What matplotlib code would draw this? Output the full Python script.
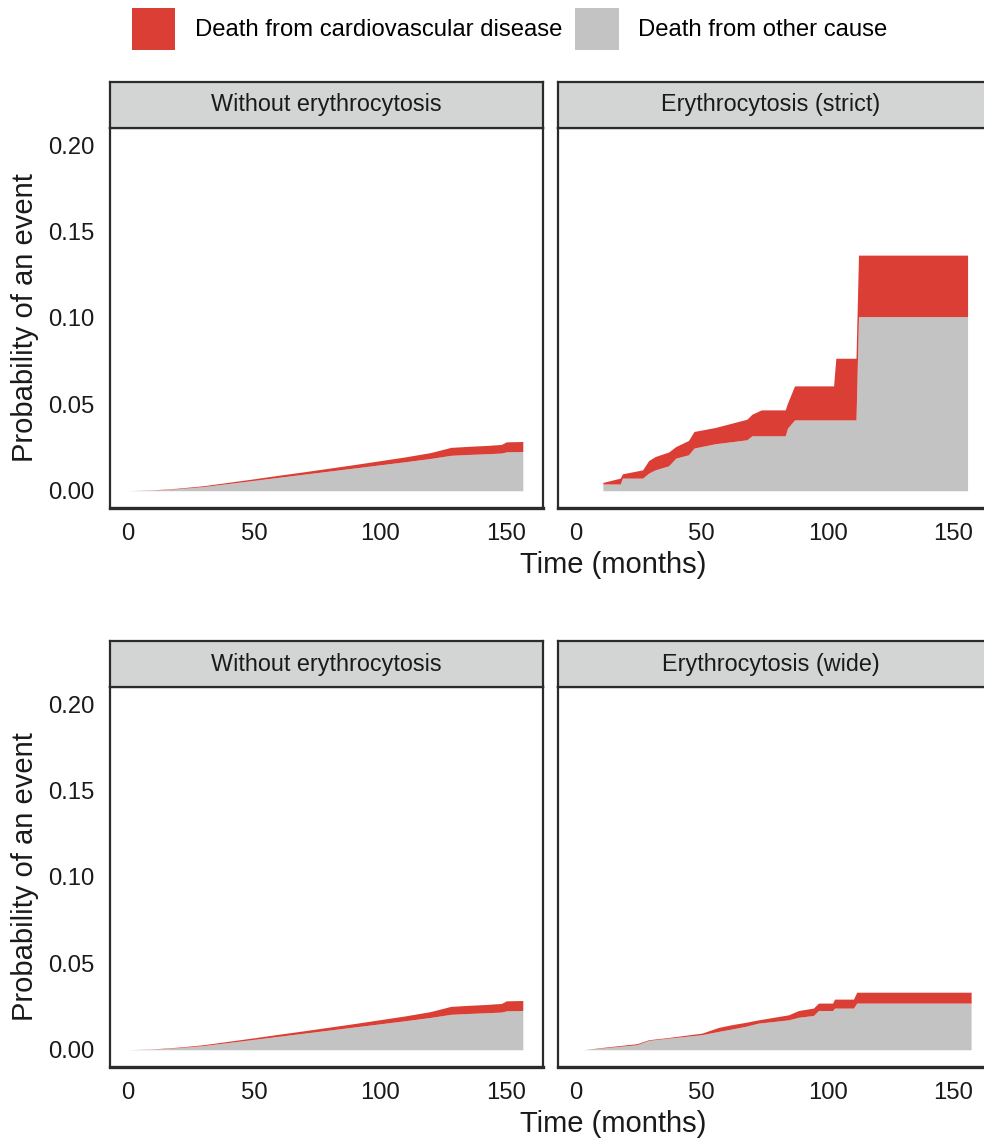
import numpy as np
import matplotlib
matplotlib.use("Agg")
import matplotlib.pyplot as plt
from matplotlib.patches import Patch

plt.rcParams['font.family'] = ['Liberation Sans', 'DejaVu Sans']

# cumulative incidence
# without erythrocytosis (same curve in both rows)
t_none = [0, 10, 20, 30, 40, 50, 60, 70, 80, 90, 100, 110, 120, 128, 135, 142, 148, 150, 156.5]
other_none = [0, 0.0004, 0.0012, 0.0024, 0.0042, 0.0060, 0.0078, 0.0096, 0.0114, 0.0132,
              0.0150, 0.0168, 0.0187, 0.0205, 0.0210, 0.0214, 0.0218, 0.0225, 0.0227]
cvd_none = [0, 0.0001, 0.0003, 0.0005, 0.0007, 0.0009, 0.0012, 0.0014, 0.0017, 0.0020,
            0.0024, 0.0028, 0.0034, 0.0046, 0.0047, 0.0048, 0.0050, 0.0058, 0.0058]

# erythrocytosis (strict)
t_strict = [10.8, 17.7, 18.6, 26.6, 29.0, 31.6, 36.9, 39.8, 44.8, 47.0, 55.4, 68.0, 70.0,
            73.7, 83.2, 84.1, 86.9, 102.4, 103.3, 111.3, 112.3, 155.6]
other_strict = [0.0039, 0.0039, 0.0073, 0.0073, 0.0102, 0.0121, 0.0144, 0.0189, 0.0208,
                0.0247, 0.0272, 0.0295, 0.0318, 0.0318, 0.0318, 0.0362, 0.0410, 0.0410,
                0.0410, 0.0410, 0.1008, 0.1008]
cvd_strict = [0.0009, 0.0034, 0.0025, 0.0048, 0.0073, 0.0077, 0.0080, 0.0067, 0.0083,
              0.0096, 0.0094, 0.0119, 0.0125, 0.0150, 0.0150, 0.0145, 0.0197, 0.0197,
              0.0357, 0.0357, 0.0356, 0.0356]

# erythrocytosis (wide)
t_wide = [3.2, 10.4, 24.3, 29.0, 36.9, 50.1, 56.7, 62.0, 67.3, 72.6, 84.5, 88.5, 94.4,
          96.4, 102.0, 102.8, 110.3, 111.6, 157.0]
other_wide = [0, 0.0010, 0.0029, 0.0054, 0.0067, 0.0087, 0.0106, 0.0120, 0.0135, 0.0154,
              0.0173, 0.0188, 0.0198, 0.0227, 0.0227, 0.0241, 0.0241, 0.0270, 0.0270]
cvd_wide = [0, 0.0003, 0.0006, 0.0004, 0.0004, 0.0009, 0.0023, 0.0025, 0.0023, 0.0019,
            0.0029, 0.0039, 0.0043, 0.0043, 0.0043, 0.0052, 0.0052, 0.0063, 0.0063]

panels = [
    ("Without erythrocytosis", t_none, other_none, cvd_none),
    ("Erythrocytosis (strict)", t_strict, other_strict, cvd_strict),
    ("Without erythrocytosis", t_none, other_none, cvd_none),
    ("Erythrocytosis (wide)", t_wide, other_wide, cvd_wide),
]

legend_labels = ["Death from cardiovascular disease", "Death from other cause"]
x_ticks = [0, 50, 100, 150]
y_ticks = [0.00, 0.05, 0.10, 0.15, 0.20]

RED = '#DB3E34'
GRAY = '#C2C3C2'
STRIP = '#D3D4D4'
EDGE = '#2b2b2b'
TXT = '#1a1a1a'

W, H = 984, 1142
fig = plt.figure(figsize=(W / 100, H / 100), dpi=100)


def box(x0, y0, x1, y1):
    # pixel box (top-left origin) -> figure fraction rect
    return [x0 / W, 1 - y1 / H, (x1 - x0) / W, (y1 - y0) / H]


cols = [(110, 543), (558, 990)]
rows = [(82, 128, 508), (641, 687, 1067)]

for i, (title, t, other, cvd) in enumerate(panels):
    r, c = divmod(i, 2)
    x0, x1 = cols[c]
    s0, p0, p1 = rows[r]
    ax = fig.add_axes(box(x0, p0, x1, p1))
    other = np.array(other)
    top = other + np.array(cvd)
    ax.fill_between(t, 0, other, color=GRAY, lw=0)
    ax.fill_between(t, other, top, color=RED, lw=0)
    ax.set_xlim(-7, 164.5)
    ax.set_ylim(-0.01, 0.21)
    ax.set_xticks(x_ticks)
    ax.set_yticks(y_ticks)
    ax.tick_params(length=0, labelsize=17.2, labelcolor=TXT)
    ax.tick_params(axis='x', pad=11)
    ax.tick_params(axis='y', pad=11)
    if c == 0:
        ax.set_yticklabels([f"{v:.2f}" for v in y_ticks])
    else:
        ax.set_yticklabels([])
    for sp in ax.spines.values():
        sp.set_color(EDGE)
        sp.set_linewidth(1.6)
    ax.spines['bottom'].set_linewidth(2.4)

    sax = fig.add_axes(box(x0, s0, x1, p0))
    sax.set_facecolor(STRIP)
    sax.set_xticks([])
    sax.set_yticks([])
    for sp in sax.spines.values():
        sp.set_color(EDGE)
        sp.set_linewidth(1.6)
    sax.text(0.5 if c == 0 else (771 - x0) / (x1 - x0), 0.5, title, ha='center', va='center',
             fontsize=16.8, color=TXT, transform=sax.transAxes)

    if c == 0:
        fig.text(25 / W, 1 - (p0 + p1) / 2 / H, "Probability of an event", rotation=90,
                 ha='center', va='center', fontsize=21, color=TXT)
    else:
        fig.text(613 / W, 1 - (p1 + 57) / H, "Time (months)", ha='center', va='center',
                 fontsize=21, color=TXT)

handles = [Patch(facecolor=RED, edgecolor='none'), Patch(facecolor=GRAY, edgecolor='none')]
fig.legend(handles, legend_labels, loc='upper left', bbox_to_anchor=(132 / W, 1 - 8 / H),
           ncol=2, frameon=False, fontsize=17.2, handlelength=1.82, handleheight=2.33,
           handletextpad=0.8, columnspacing=0.55, borderpad=0, borderaxespad=0)

fig.savefig("out.png", dpi=100)
